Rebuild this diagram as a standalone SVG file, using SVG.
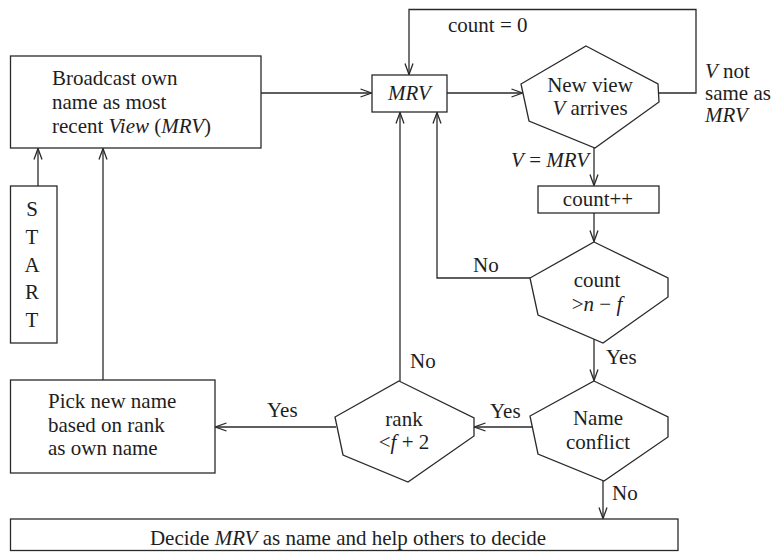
<svg xmlns="http://www.w3.org/2000/svg" width="775" height="552" viewBox="0 0 775 552">
  <style>
    .box { fill: #fff; stroke: #2a2a2a; stroke-width: 1.3; }
    .conn { fill: none; stroke: #2a2a2a; stroke-width: 1.3; }
    text { font-family: 'Liberation Serif', 'DejaVu Serif', serif; font-size: 21px; fill: #1e1e1e; }
    .i { font-style: italic; }
    .mid { text-anchor: middle; }
  </style>
  <defs>
    <marker id="arrow" markerUnits="userSpaceOnUse" markerWidth="14" markerHeight="12" viewBox="-12 -6 14 12" refX="0" refY="0" orient="auto">
      <path d="M -11 -4 L 0 0 L -11 4" fill="none" stroke="#2a2a2a" stroke-width="1.3"/>
    </marker>
  </defs>
  <rect width="775" height="552" fill="#fff"/>

  <!-- connectors -->
  <g id="connectors" class="conn">
    <path d="M261,93 H371.5" marker-end="url(#arrow)"/>
    <path d="M447,93 H522.5" marker-end="url(#arrow)"/>
    <path d="M659,93 H696 V9.5 H409 V74.5" marker-end="url(#arrow)"/>
    <path d="M594,146 V185.5" marker-end="url(#arrow)"/>
    <path d="M594,213 V241.5" marker-end="url(#arrow)"/>
    <path d="M530,278 H437 V112.5" marker-end="url(#arrow)"/>
    <path d="M594,339 V380.5" marker-end="url(#arrow)"/>
    <path d="M533,427 H474.5" marker-end="url(#arrow)"/>
    <path d="M603,481 V518.5" marker-end="url(#arrow)"/>
    <path d="M400,381 V112.5" marker-end="url(#arrow)"/>
    <path d="M336,427 H215.5" marker-end="url(#arrow)"/>
    <path d="M103,380 V148.5" marker-end="url(#arrow)"/>
    <path d="M38,186 V148.5" marker-end="url(#arrow)"/>
  </g>

  <!-- edge labels -->
  <g id="edge-labels">
    <text x="448" y="32">count = 0</text>
    <text x="705" y="78"><tspan class="i">V</tspan> not</text>
    <text x="705" y="100">same as</text>
    <text x="705" y="122" class="i">MRV</text>
    <text x="589" y="167" text-anchor="end"><tspan class="i">V</tspan> = <tspan class="i">MRV</tspan></text>
    <text x="473" y="272">No</text>
    <text x="606" y="364">Yes</text>
    <text x="410" y="368">No</text>
    <text x="490" y="418">Yes</text>
    <text x="267" y="417">Yes</text>
    <text x="612" y="500">No</text>
  </g>

  <!-- nodes -->
  <g id="broadcast">
    <rect class="box" x="10.5" y="56" width="250.5" height="92"/>
    <text x="52" y="85">Broadcast own</text>
    <text x="52" y="109">name as most</text>
    <text x="52" y="133">recent <tspan class="i">View</tspan> (<tspan class="i">MRV</tspan>)</text>
  </g>

  <g id="start">
    <rect class="box" x="10.5" y="186" width="46.5" height="157"/>
    <text class="mid" x="32" y="216">S</text>
    <text class="mid" x="32" y="244">T</text>
    <text class="mid" x="32" y="272">A</text>
    <text class="mid" x="32" y="299">R</text>
    <text class="mid" x="32" y="327">T</text>
  </g>

  <g id="mrv">
    <rect class="box" x="372" y="75" width="75" height="37"/>
    <text class="mid i" x="409.5" y="100">MRV</text>
  </g>

  <g id="new-view">
    <polygon class="box" points="586,46 658,84 659,102 595,148 529,121 521,84"/>
    <text class="mid" x="590" y="92">New view</text>
    <text class="mid" x="590" y="115"><tspan class="i">V</tspan> arrives</text>
  </g>

  <g id="count-inc">
    <rect class="box" x="538" y="186" width="121" height="27"/>
    <text class="mid" x="598" y="206">count++</text>
  </g>

  <g id="count-test">
    <polygon class="box" points="594,242 668,278 668,297 603,343 538,315 530,278"/>
    <text class="mid" x="597" y="287">count</text>
    <text class="mid" x="597" y="311">&gt;<tspan class="i">n</tspan> − <tspan class="i">f</tspan></text>
  </g>

  <g id="name-conflict">
    <polygon class="box" points="594,381 668,417 668,437 604,481 538,454 530,416"/>
    <text class="mid" x="598" y="425">Name</text>
    <text class="mid" x="598" y="449">conflict</text>
  </g>

  <g id="rank-test">
    <polygon class="box" points="399,381 474,418 474,436 408,482 343,455 335,417"/>
    <text class="mid" x="404" y="426">rank</text>
    <text class="mid" x="404" y="449">&lt;<tspan class="i">f</tspan> + 2</text>
  </g>

  <g id="pick-name">
    <rect class="box" x="10.5" y="380" width="204.5" height="93"/>
    <text x="48" y="408">Pick new name</text>
    <text x="48" y="432">based on rank</text>
    <text x="48" y="455">as own name</text>
  </g>

  <g id="decide">
    <rect class="box" x="10.5" y="519" width="667.5" height="31.5"/>
    <text class="mid" x="348" y="545">Decide <tspan class="i">MRV</tspan> as name and help others to decide</text>
  </g>
</svg>
